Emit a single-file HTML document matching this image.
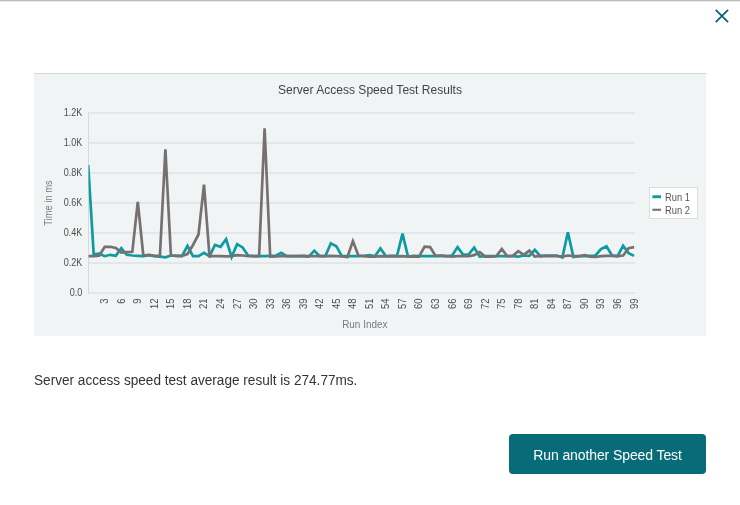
<!DOCTYPE html>
<html><head><meta charset="utf-8"><title>Server Access Speed Test Results</title>
<style>
html,body{margin:0;padding:0;background:#fff;}
body{width:740px;height:505px;position:relative;overflow:hidden;font-family:"Liberation Sans",sans-serif;}
.topline{position:absolute;left:0;top:0;width:740px;height:1px;background:#bdbdbd;}
.topline2{position:absolute;left:0;top:1px;width:740px;height:1px;background:#ececec;}
.close{position:absolute;left:712px;top:6px;width:20px;height:20px;}
.panel{position:absolute;left:34px;top:73px;width:672px;height:263px;background:#f0f4f5;border-top:1px solid #d6d9da;box-sizing:border-box;}
svg.chart{position:absolute;left:0;top:0;}
.tick{font-family:"Liberation Sans",sans-serif;font-size:10.4px;fill:#4e4e4e;}
.axt{font-family:"Liberation Sans",sans-serif;font-size:10px;fill:#7a7a7a;}
.title{font-family:"Liberation Sans",sans-serif;font-size:12.8px;fill:#444;}
.leg{font-family:"Liberation Sans",sans-serif;font-size:10.4px;fill:#555;}
.msg{position:absolute;left:34px;top:371.4px;font-size:14px;color:#333;white-space:nowrap;line-height:18px;transform:scaleX(0.971);transform-origin:0 0;}
.btn{position:absolute;left:509px;top:434px;width:197px;height:40px;background:#076b78;border-radius:4px;color:#fff;font-size:14px;line-height:42px;letter-spacing:-0.1px;text-align:center;white-space:nowrap;}
</style></head><body>
<div class="topline"></div><div class="topline2"></div>
<svg class="close" viewBox="0 0 20 20"><path d="M3.7 3.8 L16.1 16.2 M16.1 3.8 L3.7 16.2" stroke="#0c6276" stroke-width="1.75" fill="none"/></svg>
<div class="panel"></div>
<svg class="chart" width="740" height="505" viewBox="0 0 740 505">
<defs><clipPath id="cp"><rect x="88.5" y="100" width="560" height="200"/></clipPath></defs>
<text x="370" y="94.1" text-anchor="middle" class="title" textLength="184" lengthAdjust="spacingAndGlyphs">Server Access Speed Test Results</text>
<line x1="88.5" y1="263.0" x2="635" y2="263.0" stroke="#d7d9da" stroke-width="1"/>
<line x1="88.5" y1="233.0" x2="635" y2="233.0" stroke="#d7d9da" stroke-width="1"/>
<line x1="88.5" y1="203.0" x2="635" y2="203.0" stroke="#d7d9da" stroke-width="1"/>
<line x1="88.5" y1="173.0" x2="635" y2="173.0" stroke="#d7d9da" stroke-width="1"/>
<line x1="88.5" y1="143.0" x2="635" y2="143.0" stroke="#d7d9da" stroke-width="1"/>
<line x1="88.5" y1="113.0" x2="635" y2="113.0" stroke="#d7d9da" stroke-width="1"/>

<line x1="88.5" y1="112.5" x2="88.5" y2="293.5" stroke="#d7d9da" stroke-width="1"/>
<line x1="88" y1="293" x2="635" y2="293" stroke="#d7d9da" stroke-width="1"/>
<text x="82.3" y="296.3" text-anchor="end" class="tick" textLength="12.6" lengthAdjust="spacingAndGlyphs">0.0</text>
<text x="82.3" y="266.3" text-anchor="end" class="tick" textLength="18.6" lengthAdjust="spacingAndGlyphs">0.2K</text>
<text x="82.3" y="236.3" text-anchor="end" class="tick" textLength="18.6" lengthAdjust="spacingAndGlyphs">0.4K</text>
<text x="82.3" y="206.3" text-anchor="end" class="tick" textLength="18.6" lengthAdjust="spacingAndGlyphs">0.6K</text>
<text x="82.3" y="176.3" text-anchor="end" class="tick" textLength="18.6" lengthAdjust="spacingAndGlyphs">0.8K</text>
<text x="82.3" y="146.3" text-anchor="end" class="tick" textLength="18.6" lengthAdjust="spacingAndGlyphs">1.0K</text>
<text x="82.3" y="116.3" text-anchor="end" class="tick" textLength="18.6" lengthAdjust="spacingAndGlyphs">1.2K</text>

<text transform="translate(108.1,298.5) rotate(-90)" text-anchor="end" class="tick" style="font-size:10px" textLength="5.2" lengthAdjust="spacingAndGlyphs">3</text>
<text transform="translate(124.7,298.5) rotate(-90)" text-anchor="end" class="tick" style="font-size:10px" textLength="5.2" lengthAdjust="spacingAndGlyphs">6</text>
<text transform="translate(141.2,298.5) rotate(-90)" text-anchor="end" class="tick" style="font-size:10px" textLength="5.2" lengthAdjust="spacingAndGlyphs">9</text>
<text transform="translate(157.8,298.5) rotate(-90)" text-anchor="end" class="tick" style="font-size:10px" textLength="10.5" lengthAdjust="spacingAndGlyphs">12</text>
<text transform="translate(174.3,298.5) rotate(-90)" text-anchor="end" class="tick" style="font-size:10px" textLength="10.5" lengthAdjust="spacingAndGlyphs">15</text>
<text transform="translate(190.9,298.5) rotate(-90)" text-anchor="end" class="tick" style="font-size:10px" textLength="10.5" lengthAdjust="spacingAndGlyphs">18</text>
<text transform="translate(207.4,298.5) rotate(-90)" text-anchor="end" class="tick" style="font-size:10px" textLength="10.5" lengthAdjust="spacingAndGlyphs">21</text>
<text transform="translate(223.9,298.5) rotate(-90)" text-anchor="end" class="tick" style="font-size:10px" textLength="10.5" lengthAdjust="spacingAndGlyphs">24</text>
<text transform="translate(240.5,298.5) rotate(-90)" text-anchor="end" class="tick" style="font-size:10px" textLength="10.5" lengthAdjust="spacingAndGlyphs">27</text>
<text transform="translate(257.0,298.5) rotate(-90)" text-anchor="end" class="tick" style="font-size:10px" textLength="10.5" lengthAdjust="spacingAndGlyphs">30</text>
<text transform="translate(273.6,298.5) rotate(-90)" text-anchor="end" class="tick" style="font-size:10px" textLength="10.5" lengthAdjust="spacingAndGlyphs">33</text>
<text transform="translate(290.1,298.5) rotate(-90)" text-anchor="end" class="tick" style="font-size:10px" textLength="10.5" lengthAdjust="spacingAndGlyphs">36</text>
<text transform="translate(306.6,298.5) rotate(-90)" text-anchor="end" class="tick" style="font-size:10px" textLength="10.5" lengthAdjust="spacingAndGlyphs">39</text>
<text transform="translate(323.2,298.5) rotate(-90)" text-anchor="end" class="tick" style="font-size:10px" textLength="10.5" lengthAdjust="spacingAndGlyphs">42</text>
<text transform="translate(339.7,298.5) rotate(-90)" text-anchor="end" class="tick" style="font-size:10px" textLength="10.5" lengthAdjust="spacingAndGlyphs">45</text>
<text transform="translate(356.3,298.5) rotate(-90)" text-anchor="end" class="tick" style="font-size:10px" textLength="10.5" lengthAdjust="spacingAndGlyphs">48</text>
<text transform="translate(372.8,298.5) rotate(-90)" text-anchor="end" class="tick" style="font-size:10px" textLength="10.5" lengthAdjust="spacingAndGlyphs">51</text>
<text transform="translate(389.4,298.5) rotate(-90)" text-anchor="end" class="tick" style="font-size:10px" textLength="10.5" lengthAdjust="spacingAndGlyphs">54</text>
<text transform="translate(405.9,298.5) rotate(-90)" text-anchor="end" class="tick" style="font-size:10px" textLength="10.5" lengthAdjust="spacingAndGlyphs">57</text>
<text transform="translate(422.4,298.5) rotate(-90)" text-anchor="end" class="tick" style="font-size:10px" textLength="10.5" lengthAdjust="spacingAndGlyphs">60</text>
<text transform="translate(439.0,298.5) rotate(-90)" text-anchor="end" class="tick" style="font-size:10px" textLength="10.5" lengthAdjust="spacingAndGlyphs">63</text>
<text transform="translate(455.5,298.5) rotate(-90)" text-anchor="end" class="tick" style="font-size:10px" textLength="10.5" lengthAdjust="spacingAndGlyphs">66</text>
<text transform="translate(472.1,298.5) rotate(-90)" text-anchor="end" class="tick" style="font-size:10px" textLength="10.5" lengthAdjust="spacingAndGlyphs">69</text>
<text transform="translate(488.6,298.5) rotate(-90)" text-anchor="end" class="tick" style="font-size:10px" textLength="10.5" lengthAdjust="spacingAndGlyphs">72</text>
<text transform="translate(505.1,298.5) rotate(-90)" text-anchor="end" class="tick" style="font-size:10px" textLength="10.5" lengthAdjust="spacingAndGlyphs">75</text>
<text transform="translate(521.7,298.5) rotate(-90)" text-anchor="end" class="tick" style="font-size:10px" textLength="10.5" lengthAdjust="spacingAndGlyphs">78</text>
<text transform="translate(538.2,298.5) rotate(-90)" text-anchor="end" class="tick" style="font-size:10px" textLength="10.5" lengthAdjust="spacingAndGlyphs">81</text>
<text transform="translate(554.8,298.5) rotate(-90)" text-anchor="end" class="tick" style="font-size:10px" textLength="10.5" lengthAdjust="spacingAndGlyphs">84</text>
<text transform="translate(571.3,298.5) rotate(-90)" text-anchor="end" class="tick" style="font-size:10px" textLength="10.5" lengthAdjust="spacingAndGlyphs">87</text>
<text transform="translate(587.9,298.5) rotate(-90)" text-anchor="end" class="tick" style="font-size:10px" textLength="10.5" lengthAdjust="spacingAndGlyphs">90</text>
<text transform="translate(604.4,298.5) rotate(-90)" text-anchor="end" class="tick" style="font-size:10px" textLength="10.5" lengthAdjust="spacingAndGlyphs">93</text>
<text transform="translate(620.9,298.5) rotate(-90)" text-anchor="end" class="tick" style="font-size:10px" textLength="10.5" lengthAdjust="spacingAndGlyphs">96</text>
<text transform="translate(637.5,298.5) rotate(-90)" text-anchor="end" class="tick" style="font-size:10px" textLength="10.5" lengthAdjust="spacingAndGlyphs">99</text>

<text transform="translate(52.2,203) rotate(-90)" text-anchor="middle" class="axt" textLength="45.6" lengthAdjust="spacingAndGlyphs">Time in ms</text>
<text x="364.8" y="327.6" text-anchor="middle" class="axt" textLength="45.2" lengthAdjust="spacingAndGlyphs">Run Index</text>
<polyline points="88.2,165.1 93.7,254.3 99.2,253.7 104.7,256.2 110.3,254.8 115.8,255.8 121.3,248.3 126.8,254.8 132.3,255.5 137.8,255.8 143.3,256.2 148.9,255.2 154.4,256.2 159.9,256.6 165.4,257.3 170.9,255.5 176.4,255.8 181.9,256.2 187.5,245.8 193.0,256.2 198.5,256.2 204.0,252.8 209.5,256.2 215.0,245.0 220.5,246.9 226.1,239.3 231.6,257.0 237.1,244.1 242.6,247.4 248.1,255.5 253.6,256.2 259.1,256.2 264.6,256.2 270.2,255.8 275.7,255.8 281.2,252.8 286.7,256.2 292.2,256.2 297.7,256.2 303.2,256.2 308.8,256.6 314.3,250.6 319.8,256.2 325.3,256.2 330.8,243.3 336.3,246.2 341.8,255.9 347.4,256.2 352.9,256.2 358.4,256.2 363.9,255.9 369.4,255.2 374.9,256.2 380.4,248.4 386.0,256.2 391.5,255.8 397.0,255.8 402.5,233.6 408.0,256.6 413.5,255.8 419.0,256.2 424.6,256.2 430.1,256.2 435.6,256.2 441.1,255.9 446.6,256.2 452.1,255.5 457.6,247.1 463.2,254.8 468.7,254.3 474.2,247.6 479.7,256.6 485.2,256.2 490.7,256.2 496.2,256.2 501.8,256.2 507.3,256.2 512.8,256.2 518.3,256.6 523.8,255.5 529.3,255.9 534.8,249.8 540.3,256.2 545.9,255.5 551.4,255.5 556.9,255.5 562.4,257.4 567.9,232.2 573.4,257.0 578.9,256.2 584.5,256.2 590.0,255.9 595.5,255.5 601.0,249.1 606.5,246.2 612.0,255.5 617.5,256.2 623.1,245.8 628.6,253.1 634.1,255.9" fill="none" stroke="#0e9ba0" stroke-width="2.7" stroke-linejoin="miter" clip-path="url(#cp)"/>
<polyline points="88.2,256.2 93.7,256.2 99.2,255.8 104.7,246.8 110.3,246.8 115.8,248.0 121.3,252.5 126.8,252.2 132.3,251.8 137.8,201.8 143.3,255.5 148.9,254.8 154.4,255.8 159.9,255.9 165.4,149.3 170.9,255.5 176.4,255.8 181.9,255.8 187.5,254.0 193.0,245.0 198.5,234.5 204.0,184.6 209.5,256.2 215.0,256.2 220.5,256.2 226.1,256.4 231.6,256.1 237.1,255.2 242.6,255.5 248.1,256.1 253.6,256.2 259.1,256.2 264.6,128.3 270.2,256.7 275.7,256.4 281.2,256.2 286.7,256.2 292.2,256.1 297.7,256.1 303.2,255.9 308.8,256.1 314.3,256.2 319.8,256.2 325.3,256.1 330.8,255.9 336.3,256.1 341.8,256.4 347.4,257.0 352.9,241.1 358.4,255.5 363.9,256.2 369.4,256.6 374.9,256.7 380.4,256.2 386.0,256.4 391.5,256.2 397.0,256.4 402.5,256.2 408.0,256.6 413.5,256.4 419.0,256.6 424.6,246.7 430.1,247.1 435.6,255.9 441.1,255.5 446.6,256.2 452.1,256.6 457.6,256.2 463.2,256.2 468.7,256.2 474.2,255.1 479.7,252.2 485.2,256.6 490.7,256.6 496.2,256.2 501.8,248.9 507.3,256.2 512.8,255.9 518.3,251.2 523.8,254.9 529.3,250.6 534.8,256.6 540.3,255.9 545.9,256.2 551.4,256.2 556.9,256.2 562.4,256.6 567.9,255.5 573.4,256.2 578.9,256.2 584.5,255.1 590.0,256.6 595.5,257.0 601.0,256.2 606.5,255.9 612.0,255.9 617.5,256.2 623.1,255.5 628.6,248.2 634.1,247.1" fill="none" stroke="#767170" stroke-width="2.7" stroke-linejoin="miter" clip-path="url(#cp)"/>
<rect x="649.5" y="187.5" width="48" height="31" fill="#fff" stroke="#dcdcdc" stroke-width="1"/>
<rect x="652.4" y="195.3" width="8.6" height="2.9" fill="#0e9ba0"/>
<rect x="652.4" y="208.7" width="8.6" height="2.1" fill="#767170"/>
<text x="665.1" y="200.8" class="leg" textLength="24.9" lengthAdjust="spacingAndGlyphs">Run 1</text>
<text x="665.1" y="213.8" class="leg" textLength="24.9" lengthAdjust="spacingAndGlyphs">Run 2</text>
</svg>
<div class="msg">Server access speed test average result is 274.77ms.</div>
<div class="btn">Run another Speed Test</div>
</body></html>
